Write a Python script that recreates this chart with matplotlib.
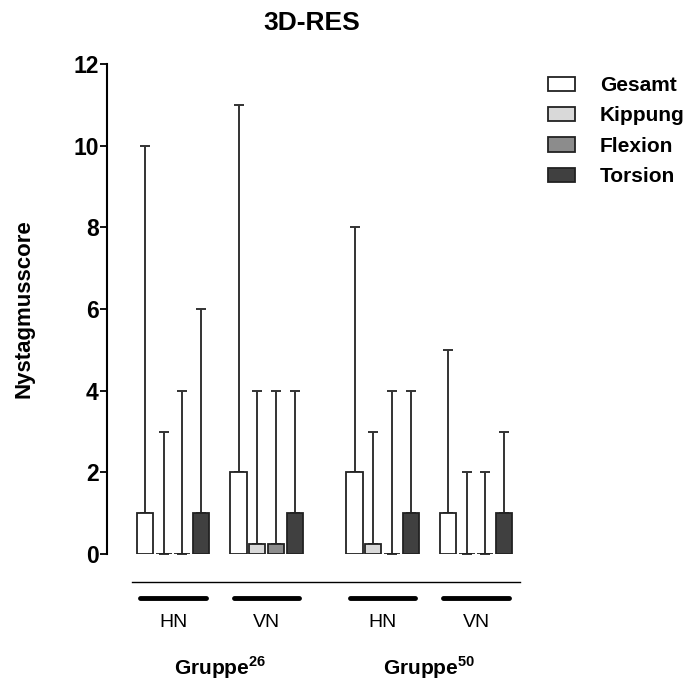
import matplotlib.pyplot as plt
import numpy as np

plt.rcParams['font.family'] = ['Liberation Sans', 'DejaVu Sans']
plt.rcParams['mathtext.fontset'] = 'custom'
plt.rcParams['mathtext.bf'] = 'Liberation Sans:bold'
plt.rcParams['mathtext.rm'] = 'Liberation Sans'

series = ['Gesamt', 'Kippung', 'Flexion', 'Torsion']
conditions = ['HN', 'VN', 'HN', 'VN']
groups = [r'$\mathbf{Gruppe}^{\mathbf{26}}$', r'$\mathbf{Gruppe}^{\mathbf{50}}$']

# median and maximum per condition (rows) and series (columns)
medians = [
    [1, 0, 0, 1],
    [2, 0.25, 0.25, 1],
    [2, 0.25, 0, 1],
    [1, 0, 0, 1],
]
maxima = [
    [10, 3, 4, 6],
    [11, 4, 4, 4],
    [8, 3, 4, 4],
    [5, 2, 2, 3],
]

colors = ['white', '#d9d9d9', '#8c8c8c', '#404040']

fig = plt.figure(figsize=(6.87, 6.84), dpi=100)
ax = fig.add_axes([0.1558, 0.190, 0.608, 0.7164])

centers = np.array([0, 5, 11.2, 16.2])
offsets = np.array([-1.5, -0.5, 0.5, 1.5])
width = 0.86

med = np.array(medians)
mx = np.array(maxima)
for j, name in enumerate(series):
    x = centers + offsets[j]
    ax.bar(x, med[:, j], width, color=colors[j], edgecolor='#222222',
           linewidth=1.3, label=name, zorder=3)
    ax.errorbar(x, med[:, j], yerr=[np.zeros(4), mx[:, j] - med[:, j]],
                fmt='none', ecolor='#333333', elinewidth=1.4, capsize=3.6,
                capthick=1.4, zorder=2)

ax.set_ylim(0, 12)
ax.set_xlim(-3.53, 18.8)
ax.set_yticks(range(0, 13, 2))
for s in ['top', 'right', 'bottom']:
    ax.spines[s].set_visible(False)
ax.spines['left'].set_linewidth(1.5)
ax.set_xticks([])
ax.tick_params(axis='y', direction='out', length=5, width=1.3, labelsize=16.5, pad=1)
for t in ax.get_yticklabels():
    t.set_fontweight('bold')

ax.set_ylabel('Nystagmusscore', fontsize=16, fontweight='bold', labelpad=28)
fig.text(0.454, 0.966, '3D-RES', ha='center', va='center', fontsize=19,
         fontweight='bold')

# group annotation below the axis
ax.plot([-2.19, 18.56], [-0.686, -0.686], color='black', lw=1.0, clip_on=False)
for c, lab in zip(centers, conditions):
    ax.plot([c - 1.75, c + 1.75], [-1.07, -1.07], color='black', lw=3.5,
            solid_capstyle='round', clip_on=False)
    ax.text(c, -1.67, lab, ha='center', va='center', fontsize=14)
for k, g in enumerate(groups):
    gc = (centers[2 * k] + centers[2 * k + 1]) / 2
    ax.text(gc, -2.78, g, ha='center', va='center', fontsize=15)

leg = fig.legend(*ax.get_legend_handles_labels(), loc='upper left',
                 bbox_to_anchor=(548 / 687, 1 - 76 / 684), frameon=False,
                 borderpad=0, borderaxespad=0,
                 handlelength=1.3, handleheight=0.68, labelspacing=0.55,
                 handletextpad=1.2, prop={'size': 15, 'weight': 'bold'})

plt.savefig('out.png', dpi=100)
